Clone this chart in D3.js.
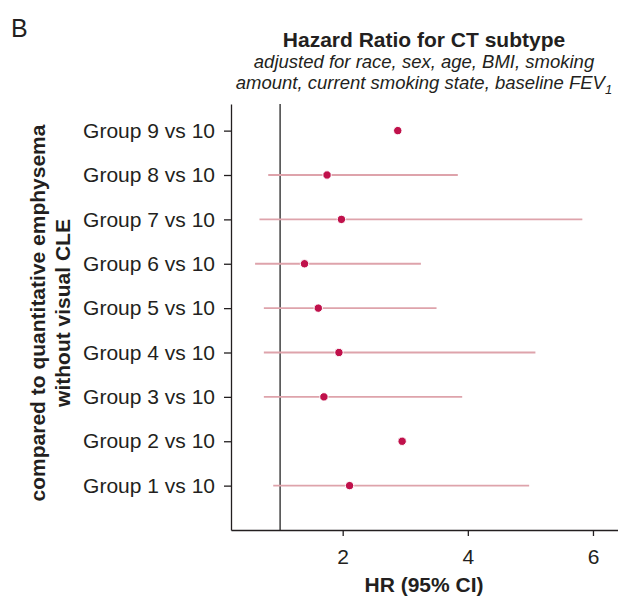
<!DOCTYPE html>
<html>
<head>
<meta charset="utf-8">
<script src="https://cdn.jsdelivr.net/npm/d3@7"></script>
<style>
  body { margin: 0; background: #fff; }
  svg text { font-family: "Liberation Sans", Arial, Helvetica, sans-serif; fill: #231f20; }
</style>
</head>
<body>
<svg id="chart" width="618" height="597"></svg>
<script>
// hazard ratios (point estimate + 95% CI), bottom row first
var groups = ["Group 1 vs 10", "Group 2 vs 10", "Group 3 vs 10", "Group 4 vs 10", "Group 5 vs 10",
              "Group 6 vs 10", "Group 7 vs 10", "Group 8 vs 10", "Group 9 vs 10"];
var rows = [1, 2, 3, 4, 5, 6, 7, 8, 9];
var hr = [2.11, 2.95, 1.70, 1.94, 1.61, 1.39, 1.98, 1.75, 2.88];
var ciLow = [0.89, null, 0.74, 0.74, 0.74, 0.60, 0.67, 0.81, null];
var ciHigh = [4.98, null, 3.91, 5.08, 3.50, 3.25, 5.83, 3.84, null];
var xTicks = [2, 4, 6];
var refValue = 1;

var data = groups.map(function (g, i) {
    return { label: g, row: rows[i], hr: hr[i], lo: ciLow[i], hi: ciHigh[i] };
});

var svg = d3.select("#chart"),
    plotLeft = 231, plotRight = 618, plotTop = 104, plotBottom = 530;

var x = d3.scaleLinear().domain([0.215, 6.4]).range([plotLeft, plotRight]);
var y = d3.scaleLinear().domain([0, 9.6]).range([plotBottom, plotTop]);

// panel letter
svg.append("text")
    .attr("x", 11).attr("y", 37)
    .style("font-size", "25px")
    .text("B");

// titles
svg.append("text")
    .attr("x", 424).attr("y", 47)
    .attr("text-anchor", "middle")
    .style("font-size", "21px").style("font-weight", "bold")
    .text("Hazard Ratio for CT subtype");

svg.append("text")
    .attr("x", 424).attr("y", 68)
    .attr("text-anchor", "middle")
    .style("font-size", "18.5px").style("font-style", "italic")
    .text("adjusted for race, sex, age, BMI, smoking");

var sub2 = svg.append("text")
    .attr("x", 424).attr("y", 89)
    .attr("text-anchor", "middle")
    .style("font-size", "18.5px").style("font-style", "italic");
sub2.append("tspan").text("amount, current smoking state, baseline FEV");
sub2.append("tspan").attr("dy", 5).style("font-size", "13px").text("1");

// reference line at HR = 1
svg.append("line")
    .attr("x1", x(refValue)).attr("x2", x(refValue))
    .attr("y1", plotTop).attr("y2", plotBottom)
    .attr("stroke", "#4d4d4d")
    .attr("stroke-width", 1.6);

// confidence intervals
svg.append("g").selectAll("line")
    .data(data.filter(function (d) { return d.lo !== null; }))
    .enter().append("line")
    .attr("x1", function (d) { return x(d.lo); })
    .attr("x2", function (d) { return x(d.hi); })
    .attr("y1", function (d) { return y(d.row); })
    .attr("y2", function (d) { return y(d.row); })
    .attr("stroke", "#dea3ab")
    .attr("stroke-width", 1.8);

// point estimates
svg.append("g").selectAll("circle")
    .data(data)
    .enter().append("circle")
    .attr("cx", function (d) { return x(d.hr); })
    .attr("cy", function (d) { return y(d.row); })
    .attr("r", 4.2)
    .attr("fill", "#c0114b")
    .attr("stroke", "#fff")
    .attr("stroke-width", 1);

// axes
var yAxis = d3.axisLeft(y)
    .tickValues(rows)
    .tickFormat(function (d) { return groups[d - 1]; })
    .tickSize(7).tickSizeOuter(0).tickPadding(9);

var gy = svg.append("g")
    .attr("transform", "translate(" + plotLeft + ",0)")
    .call(yAxis);
gy.selectAll("text").style("font-size", "21px").attr("fill", "#231f20");

var xAxis = d3.axisBottom(x)
    .tickValues(xTicks)
    .tickFormat(d3.format("d"))
    .tickSize(6).tickSizeOuter(0).tickPadding(13);

var gx = svg.append("g")
    .attr("transform", "translate(0," + plotBottom + ")")
    .call(xAxis);
gx.selectAll("text").style("font-size", "21px").attr("fill", "#231f20");

svg.selectAll(".domain, .tick line")
    .attr("stroke", "#231f20")
    .attr("stroke-width", 1.3);

// axis titles
svg.append("text")
    .attr("x", 424).attr("y", 592)
    .attr("text-anchor", "middle")
    .style("font-size", "21px").style("font-weight", "bold")
    .text("HR (95% CI)");

var ytitle = svg.append("text")
    .attr("transform", "translate(0,313) rotate(-90)")
    .attr("text-anchor", "middle")
    .style("font-size", "21px").style("font-weight", "bold");
ytitle.append("tspan").attr("x", 0).attr("y", 45).text("compared to quantitative emphysema");
ytitle.append("tspan").attr("x", 0).attr("y", 70).text("without visual CLE");
</script>
</body>
</html>
